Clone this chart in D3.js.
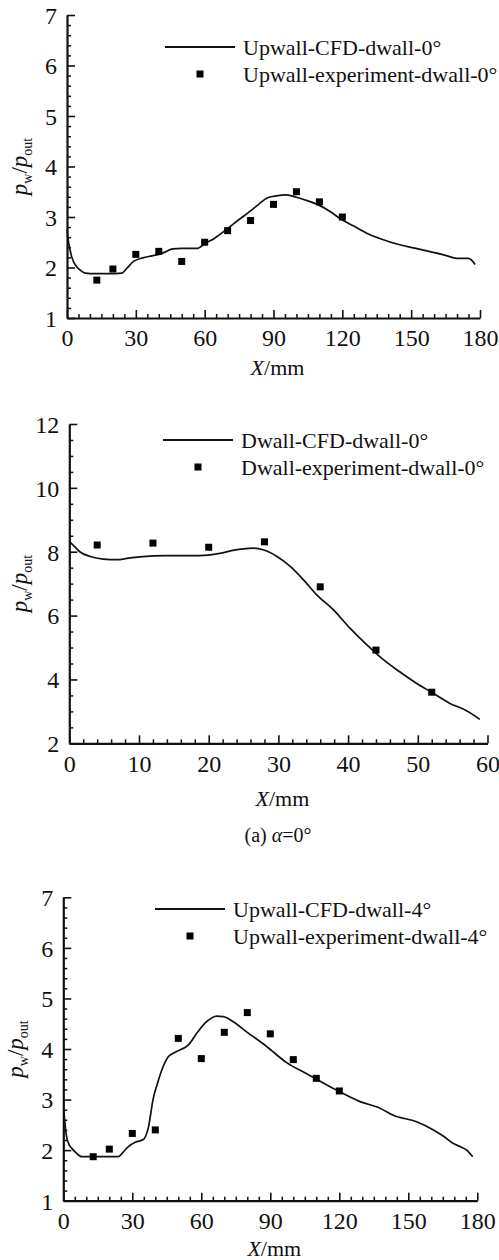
<!DOCTYPE html>
<html>
<head>
<meta charset="utf-8">
<script src="https://cdn.jsdelivr.net/npm/d3@7.9.0/dist/d3.min.js"></script>
<style>
  body { margin: 0; background: #fff; }
  svg { display: block; }
</style>
</head>
<body>
<svg id="chart" width="499" height="1260"></svg>
<script>
// ---- data ----
// panel 1 : upper wall, dwall 0 deg
const up0CfdX = [0, 0.5, 1.2, 2, 3, 4.5, 6, 8, 12, 18, 24, 26, 29, 33, 37, 40, 43, 46, 50, 54, 57, 60, 64, 70, 75, 80, 84, 87, 90, 93, 95.8, 100, 105, 110, 115, 119, 125, 130.6, 136, 145, 152, 159.6, 165, 169.9, 175, 177.9];
const up0CfdY = [2.75, 2.55, 2.38, 2.22, 2.1, 2.0, 1.94, 1.89, 1.88, 1.88, 1.89, 1.98, 2.12, 2.19, 2.23, 2.26, 2.31, 2.37, 2.38, 2.38, 2.38, 2.47, 2.57, 2.77, 2.95, 3.12, 3.27, 3.37, 3.41, 3.43, 3.44, 3.39, 3.32, 3.23, 3.1, 2.97, 2.82, 2.68, 2.58, 2.45, 2.38, 2.3, 2.24, 2.18, 2.18, 2.06];
const up0ExpX = [13, 20, 30, 40, 50, 60, 70, 80, 90, 100, 110, 120];
const up0ExpY = [1.75, 1.97, 2.26, 2.32, 2.12, 2.5, 2.73, 2.93, 3.25, 3.5, 3.3, 3.0];

// panel 2 : lower wall, dwall 0 deg
const dw0CfdX = [0, 0.8, 1.5, 3, 4.9, 6.8, 8.5, 10.1, 14, 18.7, 21.6, 23.5, 25, 26.4, 27.8, 29.8, 31.7, 33.6, 35.5, 37.9, 40.3, 42.7, 45.1, 47.4, 49.8, 52.2, 54.6, 57, 58.9];
const dw0CfdY = [8.32, 8.15, 8.0, 7.85, 7.77, 7.75, 7.8, 7.84, 7.88, 7.88, 7.95, 8.04, 8.09, 8.11, 8.06, 7.85, 7.54, 7.12, 6.65, 6.18, 5.6, 5.08, 4.61, 4.24, 3.88, 3.57, 3.25, 3.02, 2.75];
const dw0ExpX = [4, 12, 20, 28, 36, 44, 52];
const dw0ExpY = [8.21, 8.27, 8.14, 8.31, 6.9, 4.92, 3.6];

// panel 3 : upper wall, dwall 4 deg
const up4CfdX = [0.2, 0.8, 1.4, 2.4, 3.6, 5.5, 8, 12, 18, 23.9, 26, 28.3, 31.5, 34.8, 37, 39.1, 40.8, 42.8, 45.7, 48, 50.7, 54.4, 58, 62.3, 66.7, 69.6, 73.9, 79.7, 88.4, 97.1, 105.8, 117.4, 129, 137.7, 143.5, 153.6, 160.9, 165.5, 169.6, 172.5, 175.4, 178];
const up4CfdY = [2.79, 2.5, 2.27, 2.12, 2.04, 1.95, 1.87, 1.87, 1.87, 1.87, 1.96, 2.07, 2.16, 2.21, 2.45, 3.02, 3.3, 3.58, 3.85, 3.92, 3.98, 4.08, 4.31, 4.54, 4.65, 4.64, 4.54, 4.34, 4.05, 3.73, 3.51, 3.22, 2.96, 2.83, 2.69, 2.56, 2.4, 2.27, 2.13, 2.07, 2.0, 1.87];
const up4ExpX = [13, 20, 30, 40, 50, 60, 70, 80, 90, 100, 110, 120];
const up4ExpY = [1.87, 2.02, 2.33, 2.4, 4.21, 3.81, 4.33, 4.72, 4.3, 3.79, 3.42, 3.17];

// axis ticks
const xTicks180 = [0, 30, 60, 90, 120, 150, 180];
const yTicks17 = [1, 2, 3, 4, 5, 6, 7];
const xTicks60 = [0, 10, 20, 30, 40, 50, 60];
const yTicks212 = [2, 4, 6, 8, 10, 12];

const legendUp0 = ["Upwall-CFD-dwall-0°", "Upwall-experiment-dwall-0°"];
const legendDw0 = ["Dwall-CFD-dwall-0°", "Dwall-experiment-dwall-0°"];
const legendUp4 = ["Upwall-CFD-dwall-4°", "Upwall-experiment-dwall-4°"];

const FONT = "'Liberation Serif', 'Times New Roman', serif";
const svg = d3.select('#chart');

function serif(sel, size) {
  return sel.style('font-family', FONT).style('font-size', size + 'px').attr('fill', '#111');
}

function drawPanel(p) {
  const x = d3.scaleLinear().domain(p.xDomain).range(p.xRange);
  const y = d3.scaleLinear().domain(p.yDomain).range(p.yRange);
  const g = svg.append('g');

  // minor ticks
  const xMinor = d3.range(p.xDomain[0], p.xDomain[1] + 1e-9, p.xMinorStep).filter(v => !p.xTicks.includes(v));
  const yMinor = d3.range(p.yDomain[0], p.yDomain[1] + 1e-9, p.yMinorStep).map(v => +v.toFixed(3)).filter(v => !p.yTicks.includes(v));

  g.append('g')
    .attr('transform', `translate(0,${p.yRange[0]})`)
    .call(d3.axisBottom(x).tickValues(xMinor).tickSize(-4).tickSizeOuter(0).tickFormat(''))
    .call(a => a.select('.domain').remove())
    .selectAll('line').attr('stroke', '#111').attr('stroke-width', 1.5);
  g.append('g')
    .attr('transform', `translate(${p.xRange[0]},0)`)
    .call(d3.axisLeft(y).tickValues(yMinor).tickSize(-4).tickSizeOuter(0).tickFormat(''))
    .call(a => a.select('.domain').remove())
    .selectAll('line').attr('stroke', '#111').attr('stroke-width', 1.5);

  // major ticks
  const xa = g.append('g')
    .attr('transform', `translate(0,${p.yRange[0]})`)
    .call(d3.axisBottom(x).tickValues(p.xTicks).tickSize(-8).tickSizeOuter(0).tickPadding(8).tickFormat(d3.format('d')));
  const ya = g.append('g')
    .attr('transform', `translate(${p.xRange[0]},0)`)
    .call(d3.axisLeft(y).tickValues(p.yTicks).tickSize(-8).tickSizeOuter(0).tickPadding(10).tickFormat(d3.format('d')));
  [xa, ya].forEach(a => {
    a.attr('font-family', null);
    a.select('.domain').attr('stroke', '#111').attr('stroke-width', 2.2);
    a.selectAll('.tick line').attr('stroke', '#111').attr('stroke-width', 1.6);
    serif(a.selectAll('.tick text'), 24);
  });
  xa.selectAll('.tick text').attr('dy', '0.85em');
  ya.selectAll('.tick text').attr('dy', '0.35em');

  // CFD curve
  const pts = p.cfdX.map((v, i) => [v, p.cfdY[i]]);
  g.append('path')
    .datum(pts)
    .attr('fill', 'none')
    .attr('stroke', '#111')
    .attr('stroke-width', 1.7)
    .attr('stroke-linejoin', 'round')
    .attr('d', d3.line().x(d => x(d[0])).y(d => y(d[1])).curve(d3.curveMonotoneX));

  // experiment points
  const s = 7;
  g.selectAll('rect.exp')
    .data(p.expX.map((v, i) => [v, p.expY[i]]))
    .enter()
    .append('rect')
    .attr('class', 'exp')
    .attr('x', d => x(d[0]) - s / 2)
    .attr('y', d => y(d[1]) - s / 2)
    .attr('width', s)
    .attr('height', s)
    .attr('fill', '#000');

  // legend
  const lg = g.append('g').attr('transform', `translate(${p.legend[0]},${p.legend[1]})`);
  lg.append('line').attr('x1', 0).attr('x2', 70).attr('y1', 0).attr('y2', 0)
    .attr('stroke', '#111').attr('stroke-width', 1.8);
  lg.append('rect').attr('x', 35 - s / 2).attr('y', 27 - s / 2).attr('width', s).attr('height', s).attr('fill', '#000');
  serif(lg.selectAll('text.lab')
    .data(p.legendLabels)
    .enter()
    .append('text')
    .attr('class', 'lab')
    .attr('x', 78)
    .attr('y', (d, i) => i * 27)
    .attr('dy', '0.35em')
    .text(d => d), 22);

  // y axis title  p_w / p_out
  const cy = (p.yRange[0] + p.yRange[1]) / 2;
  const yt = serif(g.append('text')
    .attr('transform', `translate(${p.yTitleX},${cy}) rotate(-90)`)
    .attr('text-anchor', 'middle'), 23);
  yt.append('tspan').style('font-style', 'italic').text('p');
  yt.append('tspan').attr('dy', 5).style('font-size', '14px').text('w');
  yt.append('tspan').attr('dy', -5).text('/');
  yt.append('tspan').style('font-style', 'italic').text('p');
  yt.append('tspan').attr('dy', 5).style('font-size', '14px').text('out');

  // x axis title  X/mm
  const xt = serif(g.append('text')
    .attr('x', (p.xRange[0] + p.xRange[1]) / 2 + 4)
    .attr('y', p.xTitleY)
    .attr('text-anchor', 'middle')
    .attr('dy', '0.35em'), 22);
  xt.append('tspan').style('font-style', 'italic').text('X');
  xt.append('tspan').text('/mm');
}

drawPanel({
  xDomain: [0, 180], xRange: [67, 480], yDomain: [1, 7], yRange: [318, 15],
  xTicks: xTicks180, yTicks: yTicks17, xMinorStep: 5, yMinorStep: 0.2,
  cfdX: up0CfdX, cfdY: up0CfdY, expX: up0ExpX, expY: up0ExpY,
  legend: [165, 47], legendLabels: legendUp0, yTitleX: 27, xTitleY: 367
});

drawPanel({
  xDomain: [0, 60], xRange: [69.3, 487.5], yDomain: [2, 12], yRange: [743.3, 424],
  xTicks: xTicks60, yTicks: yTicks212, xMinorStep: 2, yMinorStep: 0.5,
  cfdX: dw0CfdX, cfdY: dw0CfdY, expX: dw0ExpX, expY: dw0ExpY,
  legend: [163, 440], legendLabels: legendDw0, yTitleX: 27, xTitleY: 798
});

drawPanel({
  xDomain: [0, 180], xRange: [63.3, 477.3], yDomain: [1, 7], yRange: [1200.7, 897.3],
  xTicks: xTicks180, yTicks: yTicks17, xMinorStep: 5, yMinorStep: 0.2,
  cfdX: up4CfdX, cfdY: up4CfdY, expX: up4ExpX, expY: up4ExpY,
  legend: [155, 909], legendLabels: legendUp4, yTitleX: 23, xTitleY: 1248
});

// sub caption
const cap = serif(svg.append('text')
  .attr('x', 278).attr('y', 835).attr('dy', '0.35em')
  .attr('text-anchor', 'middle'), 20);
cap.append('tspan').text('(a) ');
cap.append('tspan').style('font-style', 'italic').text('α');
cap.append('tspan').text('=0°');
</script>
</body>
</html>
